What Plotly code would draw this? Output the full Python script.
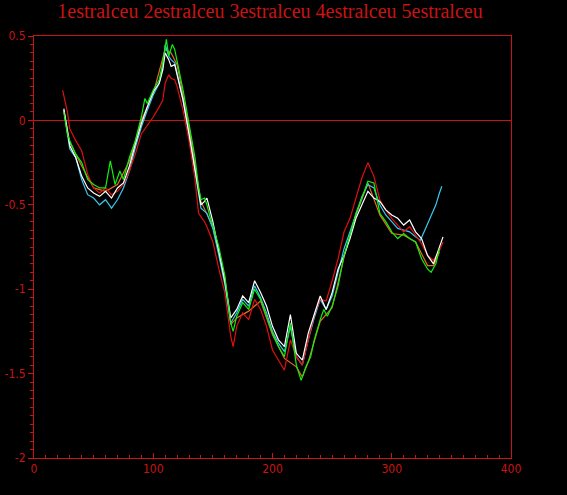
import plotly.graph_objects as go

# ---- data ----
series_names = ["1estralceu", "2estralceu", "3estralceu", "4estralceu", "5estralceu"]

white_x = [25,28,30,35,40,45,50,55,60,65,70,75,80,85,90,95,100,105,108,110,113,115,118,120,125,130,135,138,140,143,145,
           150,155,160,165,170,175,180,185,190,195,200,205,210,215,220,225,230,235,240,245,250,255,260,265,270,275,280,
           285,290,295,300,305,310,315,320,325,330,335,340,343]
white_y = [0.07,-0.05,-0.15,-0.22,-0.33,-0.40,-0.43,-0.45,-0.42,-0.46,-0.40,-0.37,-0.27,-0.14,-0.02,0.08,0.17,0.22,
           0.30,0.40,0.36,0.32,0.33,0.27,0.12,-0.08,-0.29,-0.44,-0.50,-0.48,-0.46,
           -0.60,-0.78,-0.95,-1.17,-1.12,-1.04,-1.08,-0.95,-1.02,-1.10,-1.22,-1.30,-1.34,-1.15,-1.38,-1.42,-1.26,-1.15,
           -1.04,-1.12,-1.02,-0.88,-0.80,-0.70,-0.58,-0.50,-0.42,-0.46,-0.48,-0.53,-0.56,-0.58,-0.62,-0.59,-0.66,-0.70,
           -0.80,-0.85,-0.75,-0.69]

red_x = [24,28,30,35,40,45,50,55,60,65,70,75,80,85,90,94,100,105,108,110,113,115,118,120,125,130,135,138,140,143,145,
         150,155,160,165,167,170,175,180,185,190,195,200,205,210,215,220,225,230,235,240,245,250,255,260,265,270,275,
         280,285,290,295,300,305,310,315,320,325,330,335,340,343]
red_y = [0.18,0.05,-0.05,-0.12,-0.18,-0.32,-0.40,-0.43,-0.40,-0.44,-0.42,-0.38,-0.30,-0.20,-0.08,-0.04,0.02,0.08,
         0.12,0.22,0.27,0.25,0.24,0.20,0.06,-0.12,-0.35,-0.55,-0.57,-0.60,-0.63,
         -0.72,-0.88,-1.02,-1.28,-1.34,-1.22,-1.14,-1.18,-1.06,-1.12,-1.22,-1.36,-1.42,-1.48,-1.30,-1.40,-1.45,-1.30,
         -1.15,-1.06,-1.07,-0.95,-0.82,-0.66,-0.58,-0.46,-0.34,-0.25,-0.33,-0.47,-0.53,-0.58,-0.62,-0.66,-0.63,-0.68,
         -0.73,-0.80,-0.83,-0.77,-0.72]

green_x = [25,28,30,35,40,45,50,55,60,64,68,72,75,80,85,90,93,95,100,105,108,111,113,116,118,120,125,130,135,
           138,140,143,145,148,150,155,160,165,167,170,175,180,185,190,195,200,205,210,215,220,224,228,232,235,
           240,243,246,250,255,260,265,270,275,280,285,290,295,300,305,310,315,320,325,330,333,337,340]
green_y = [0.05,-0.08,-0.12,-0.20,-0.25,-0.35,-0.38,-0.40,-0.40,-0.24,-0.38,-0.30,-0.35,-0.22,-0.12,0.02,0.13,0.10,
           0.18,0.24,0.34,0.48,0.38,0.45,0.42,0.35,0.18,-0.02,-0.22,
           -0.40,-0.47,-0.46,-0.50,-0.58,-0.62,-0.75,-0.92,-1.20,-1.25,-1.16,-1.08,-1.12,-1.00,-1.06,-1.16,-1.26,
           -1.34,-1.40,-1.20,-1.45,-1.54,-1.46,-1.40,-1.30,
           -1.18,-1.12,-1.16,-1.10,-0.98,-0.80,-0.68,-0.55,-0.46,-0.36,-0.37,-0.55,-0.60,-0.66,-0.70,-0.67,-0.70,
           -0.72,-0.82,-0.88,-0.90,-0.85,-0.76]

cyan_x = [25,30,35,40,45,50,55,60,65,70,75,80,85,90,95,100,105,108,110,113,115,118,120,
          125,130,135,140,145,150,155,160,165,170,175,180,185,190,195,200,205,210,215,220,225,230,235,240,245,
          250,255,260,265,270,275,280,285,290,295,300,305,310,315,320,324,329,333,337,340,342]
cyan_y = [0.06,-0.17,-0.22,-0.35,-0.44,-0.46,-0.50,-0.47,-0.52,-0.47,-0.40,-0.30,-0.16,-0.04,0.06,0.15,0.22,
          0.32,0.45,0.38,0.36,0.34,0.28,
          0.12,-0.08,-0.30,-0.52,-0.55,-0.64,-0.80,-0.97,-1.20,-1.14,-1.06,-1.10,-0.98,-1.05,-1.14,-1.25,-1.32,
          -1.37,-1.22,-1.40,-1.45,-1.30,-1.17,-1.06,-1.12,-1.04,-0.90,-0.76,-0.66,-0.55,-0.45,-0.38,-0.40,-0.50,
          -0.56,-0.60,-0.64,-0.65,-0.66,-0.69,-0.71,-0.63,-0.56,-0.50,-0.43,-0.39]

orange_x = [25,30,40,50,60,70,80,90,100,110,115,120,130,140,150,160,165,170,180,190,200,210,220,225,230,
            240,250,260,270,280,290,300,310,320,330,335,340]
orange_y = [0.06,-0.13,-0.27,-0.40,-0.42,-0.38,-0.24,0.00,0.16,0.42,0.40,0.33,-0.04,-0.48,-0.63,-0.93,-1.21,
            -1.17,-1.13,-1.07,-1.27,-1.41,-1.46,-1.52,-1.43,-1.19,-1.11,-0.81,-0.56,-0.37,-0.56,-0.67,-0.68,
            -0.72,-0.86,-0.86,-0.78]

y_tickvals = [0.5, 0, -0.5, -1, -1.5, -2]
y_ticktext = ["0.5", "0", "-0.5", "-1", "-1.5", "-2"]
x_tickvals = [0, 100, 200, 300, 400]
x_ticktext = ["0", "100", "200", "300", "400"]

AXIS_RED = "#c81414"
TICK_FONT = dict(family="Liberation Sans Narrow, DejaVu Sans Condensed, sans-serif", size=12, color=AXIS_RED)

fig = go.Figure()
traces = [
    (orange_x, orange_y, "#e07020", series_names[4]),
    (cyan_x, cyan_y, "#38c8f0", series_names[3]),
    (red_x, red_y, "#e01010", series_names[0]),
    (white_x, white_y, "#ffffff", series_names[1]),
    (green_x, green_y, "#10f010", series_names[2]),
]
for xs, ys, col, nm in traces:
    fig.add_trace(go.Scatter(x=xs, y=ys, mode="lines", name=nm,
                             line=dict(color=col, width=1.2)))

fig.update_layout(
    width=567, height=495,
    paper_bgcolor="black", plot_bgcolor="black",
    showlegend=False,
    margin=dict(l=34, r=56, t=36, b=37, autoexpand=False),
    title=dict(text=" ".join(series_names), x=270/567, xref="container", xanchor="center",
               y=1 - 11/495, yref="container", yanchor="middle", automargin=False,
               font=dict(family="Liberation Serif, serif", size=20, color=AXIS_RED)),
)
fig.update_xaxes(range=[0, 400], showgrid=False, zeroline=False, automargin=False,
                 showline=True, linecolor=AXIS_RED, linewidth=1, mirror=True,
                 tickvals=x_tickvals, ticktext=x_ticktext, ticks="inside", ticklen=5,
                 tickcolor=AXIS_RED, tickfont=TICK_FONT,
                 minor=dict(dtick=10, ticklen=3, tickcolor=AXIS_RED, ticks="inside", showgrid=False))
fig.update_yaxes(range=[-2, 0.5], showgrid=False, zeroline=True, zerolinecolor=AXIS_RED, zerolinewidth=1,
                 automargin=False,
                 showline=True, linecolor=AXIS_RED, linewidth=1, mirror=True,
                 tickvals=y_tickvals, ticktext=y_ticktext, ticks="outside", ticklen=5,
                 tickcolor=AXIS_RED, tickfont=TICK_FONT,
                 minor=dict(dtick=0.05, ticklen=3, tickcolor=AXIS_RED, ticks="outside", showgrid=False))

fig.write_html("out.html", config={"displayModeBar": False},
               post_script="document.body.style.margin='0px';document.body.style.background='black';")
